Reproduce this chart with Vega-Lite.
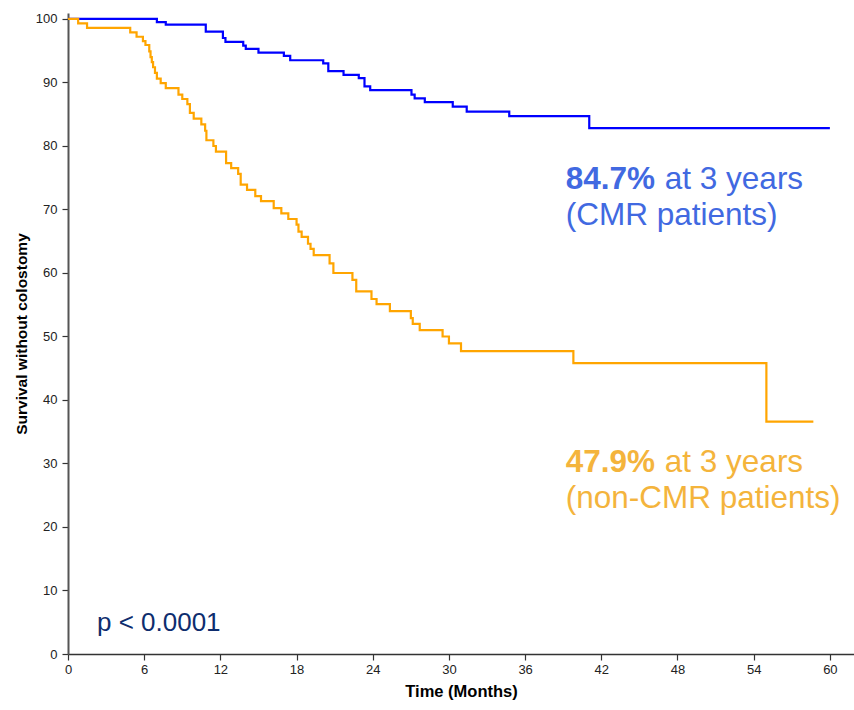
{
  "$schema": "https://vega.github.io/schema/vega-lite/v6.json",
  "width": 786,
  "height": 641,
  "autosize": {"type": "none"},
  "padding": {"left": 68, "top": 13, "right": 0, "bottom": 56},
  "background": "white",
  "config": {
    "view": {"stroke": null},
    "font": "Liberation Sans",
    "axis": {"grid": false, "labelFlush": false, "labelFont": "Liberation Sans", "titleFont": "Liberation Sans", "labelColor": "#222222", "titleColor": "#000000"}
  },
  "layer": [
    {
      "data": {"values": [
        {"month": 0, "surv": 100, "group": "CMR"},
        {"month": 7.0, "surv": 99.5, "group": "CMR"},
        {"month": 7.7, "surv": 99.1, "group": "CMR"},
        {"month": 10.85, "surv": 98.0, "group": "CMR"},
        {"month": 12.2, "surv": 97.0, "group": "CMR"},
        {"month": 12.4, "surv": 96.4, "group": "CMR"},
        {"month": 13.8, "surv": 95.8, "group": "CMR"},
        {"month": 14.0, "surv": 95.3, "group": "CMR"},
        {"month": 15.0, "surv": 94.7, "group": "CMR"},
        {"month": 17.0, "surv": 94.2, "group": "CMR"},
        {"month": 17.5, "surv": 93.5, "group": "CMR"},
        {"month": 20.1, "surv": 93.0, "group": "CMR"},
        {"month": 20.5, "surv": 91.8, "group": "CMR"},
        {"month": 21.7, "surv": 91.2, "group": "CMR"},
        {"month": 22.9, "surv": 90.7, "group": "CMR"},
        {"month": 23.35, "surv": 89.4, "group": "CMR"},
        {"month": 23.8, "surv": 88.8, "group": "CMR"},
        {"month": 27.05, "surv": 88.1, "group": "CMR"},
        {"month": 27.3, "surv": 87.5, "group": "CMR"},
        {"month": 28.1, "surv": 86.9, "group": "CMR"},
        {"month": 30.3, "surv": 86.2, "group": "CMR"},
        {"month": 31.4, "surv": 85.4, "group": "CMR"},
        {"month": 34.75, "surv": 84.7, "group": "CMR"},
        {"month": 41.05, "surv": 82.8, "group": "CMR"},
        {"month": 60.0, "surv": 82.8, "group": "CMR"},
        {"month": 0, "surv": 100, "group": "non-CMR"},
        {"month": 0.8, "surv": 99.3, "group": "non-CMR"},
        {"month": 1.5, "surv": 98.6, "group": "non-CMR"},
        {"month": 4.9, "surv": 97.9, "group": "non-CMR"},
        {"month": 5.4, "surv": 97.2, "group": "non-CMR"},
        {"month": 5.9, "surv": 96.5, "group": "non-CMR"},
        {"month": 6.1, "surv": 95.9, "group": "non-CMR"},
        {"month": 6.4, "surv": 94.9, "group": "non-CMR"},
        {"month": 6.5, "surv": 94.0, "group": "non-CMR"},
        {"month": 6.6, "surv": 93.2, "group": "non-CMR"},
        {"month": 6.7, "surv": 92.4, "group": "non-CMR"},
        {"month": 6.85, "surv": 91.5, "group": "non-CMR"},
        {"month": 7.0, "surv": 90.6, "group": "non-CMR"},
        {"month": 7.3, "surv": 89.9, "group": "non-CMR"},
        {"month": 7.7, "surv": 89.1, "group": "non-CMR"},
        {"month": 8.7, "surv": 88.1, "group": "non-CMR"},
        {"month": 9.0, "surv": 87.4, "group": "non-CMR"},
        {"month": 9.4, "surv": 86.6, "group": "non-CMR"},
        {"month": 9.6, "surv": 85.2, "group": "non-CMR"},
        {"month": 9.9, "surv": 84.3, "group": "non-CMR"},
        {"month": 10.5, "surv": 83.4, "group": "non-CMR"},
        {"month": 10.8, "surv": 82.4, "group": "non-CMR"},
        {"month": 10.9, "surv": 80.9, "group": "non-CMR"},
        {"month": 11.45, "surv": 80.0, "group": "non-CMR"},
        {"month": 11.65, "surv": 79.1, "group": "non-CMR"},
        {"month": 12.45, "surv": 77.3, "group": "non-CMR"},
        {"month": 12.85, "surv": 76.5, "group": "non-CMR"},
        {"month": 13.4, "surv": 75.6, "group": "non-CMR"},
        {"month": 13.6, "surv": 73.9, "group": "non-CMR"},
        {"month": 14.1, "surv": 73.1, "group": "non-CMR"},
        {"month": 14.75, "surv": 72.1, "group": "non-CMR"},
        {"month": 15.2, "surv": 71.3, "group": "non-CMR"},
        {"month": 16.2, "surv": 70.2, "group": "non-CMR"},
        {"month": 16.8, "surv": 69.4, "group": "non-CMR"},
        {"month": 17.35, "surv": 68.5, "group": "non-CMR"},
        {"month": 18.0, "surv": 67.6, "group": "non-CMR"},
        {"month": 18.15, "surv": 66.5, "group": "non-CMR"},
        {"month": 18.4, "surv": 65.7, "group": "non-CMR"},
        {"month": 18.9, "surv": 64.6, "group": "non-CMR"},
        {"month": 19.1, "surv": 63.8, "group": "non-CMR"},
        {"month": 19.35, "surv": 62.8, "group": "non-CMR"},
        {"month": 20.6, "surv": 61.5, "group": "non-CMR"},
        {"month": 20.9, "surv": 60.0, "group": "non-CMR"},
        {"month": 22.4, "surv": 58.9, "group": "non-CMR"},
        {"month": 22.7, "surv": 57.1, "group": "non-CMR"},
        {"month": 23.9, "surv": 55.9, "group": "non-CMR"},
        {"month": 24.3, "surv": 55.1, "group": "non-CMR"},
        {"month": 25.35, "surv": 54.0, "group": "non-CMR"},
        {"month": 27.0, "surv": 52.9, "group": "non-CMR"},
        {"month": 27.15, "surv": 52.0, "group": "non-CMR"},
        {"month": 27.7, "surv": 51.0, "group": "non-CMR"},
        {"month": 29.5, "surv": 50.0, "group": "non-CMR"},
        {"month": 30.0, "surv": 48.9, "group": "non-CMR"},
        {"month": 30.95, "surv": 47.7, "group": "non-CMR"},
        {"month": 39.8, "surv": 45.8, "group": "non-CMR"},
        {"month": 55.0, "surv": 36.6, "group": "non-CMR"},
        {"month": 58.7, "surv": 36.6, "group": "non-CMR"}
      ]},
      "mark": {"type": "line", "interpolate": "step-after", "strokeWidth": 2.2},
      "encoding": {
        "x": {
          "field": "month", "type": "quantitative",
          "scale": {"domain": [0, 61.9], "nice": false, "zero": false},
          "axis": {
            "title": "Time (Months)",
            "values": [0, 6, 12, 18, 24, 30, 36, 42, 48, 54, 60],
            "domainColor": "#333333", "domainWidth": 1.5,
            "tickColor": "#333333", "tickSize": 6, "tickWidth": 1.2,
            "labelFontSize": 13, "labelPadding": 3,
            "titleFontSize": 16.5, "titleFontWeight": "bold", "titlePadding": 7
          }
        },
        "y": {
          "field": "surv", "type": "quantitative",
          "scale": {"domain": [0, 100.94], "nice": false, "zero": false},
          "axis": {
            "title": "Survival without colostomy",
            "values": [0, 10, 20, 30, 40, 50, 60, 70, 80, 90, 100],
            "domainColor": "#555555", "domainWidth": 2,
            "tickColor": "#333333", "tickSize": 6, "tickWidth": 1.2,
            "labelFontSize": 13, "labelPadding": 5,
            "titleFontSize": 15.5, "titleFontWeight": "bold", "titlePadding": 6
          }
        },
        "color": {
          "field": "group", "type": "nominal",
          "scale": {"domain": ["CMR", "non-CMR"], "range": ["#0000FF", "#FFA500"]},
          "legend": null
        },
        "detail": {"field": "group"}
      }
    },
    {
      "mark": {"type": "rule", "color": "#7a7a7a", "strokeWidth": 1.5},
      "encoding": {"y": {"datum": 100.94}}
    },
    {
      "data": {"values": [{"month": 39.2, "surv": 73.3, "label": "84.7%"}]},
      "mark": {"type": "text", "align": "left", "baseline": "alphabetic", "font": "Liberation Sans", "fontSize": 31.5, "fontWeight": "bold", "color": "#4169E1"},
      "encoding": {"x": {"field": "month", "type": "quantitative"}, "y": {"field": "surv", "type": "quantitative"}, "text": {"field": "label"}}
    },
    {
      "data": {"values": [{"month": 47.0, "surv": 73.3, "label": "at 3 years"}, {"month": 39.2, "surv": 67.6, "label": "(CMR patients)"}]},
      "mark": {"type": "text", "align": "left", "baseline": "alphabetic", "font": "Liberation Sans", "fontSize": 31.5, "color": "#4169E1"},
      "encoding": {"x": {"field": "month", "type": "quantitative"}, "y": {"field": "surv", "type": "quantitative"}, "text": {"field": "label"}}
    },
    {
      "data": {"values": [{"month": 39.2, "surv": 28.7, "label": "47.9%"}]},
      "mark": {"type": "text", "align": "left", "baseline": "alphabetic", "font": "Liberation Sans", "fontSize": 31.5, "fontWeight": "bold", "color": "#F4B43C"},
      "encoding": {"x": {"field": "month", "type": "quantitative"}, "y": {"field": "surv", "type": "quantitative"}, "text": {"field": "label"}}
    },
    {
      "data": {"values": [{"month": 47.0, "surv": 28.7, "label": "at 3 years"}, {"month": 39.2, "surv": 23.0, "label": "(non-CMR patients)"}]},
      "mark": {"type": "text", "align": "left", "baseline": "alphabetic", "font": "Liberation Sans", "fontSize": 31.5, "color": "#F4B43C"},
      "encoding": {"x": {"field": "month", "type": "quantitative"}, "y": {"field": "surv", "type": "quantitative"}, "text": {"field": "label"}}
    },
    {
      "data": {"values": [{"month": 2.28, "surv": 3.6, "label": "p < 0.0001"}]},
      "mark": {"type": "text", "align": "left", "baseline": "alphabetic", "font": "Liberation Sans", "fontSize": 26, "color": "#0E2D6E"},
      "encoding": {"x": {"field": "month", "type": "quantitative"}, "y": {"field": "surv", "type": "quantitative"}, "text": {"field": "label"}}
    }
  ]
}
